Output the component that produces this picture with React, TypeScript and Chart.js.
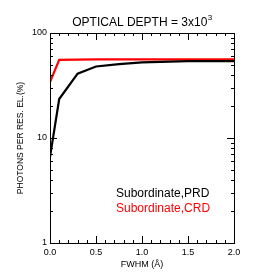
import React, { useEffect, useRef } from "react";
import { Chart, registerables } from "chart.js";
Chart.register(...registerables);

const xValues = [0.0, 0.1, 0.3, 0.5, 0.75, 1.0, 1.5, 2.0];
const prdValues = [6.6, 23.5, 41, 48, 50.5, 52.5, 54, 54];
const crdValues = [34, 55.5, 55.8, 56, 56, 56, 56, 56];
const yTickLabels = [1, 10, 100];
const xTickLabels = [0, 0.5, 1.0, 1.5, 2.0];
const titleText = "OPTICAL DEPTH = 3x10";
const titleSup = "3";
const seriesNames = ["Subordinate,PRD", "Subordinate,CRD"];
const FONT = "'Liberation Sans', Arial, Helvetica, sans-serif";

const framePlugin = {
  id: "frame",
  afterDraw(chart: any) {
    const { ctx, chartArea: a, scales } = chart;
    const x = scales.x, y = scales.y;
    ctx.save();
    ctx.strokeStyle = "#000";
    ctx.lineWidth = 1;
    ctx.strokeRect(a.left + 0.5, a.top + 0.5, a.right - a.left, a.bottom - a.top);
    ctx.beginPath();
    for (let i = 0; i <= 20; i++) {
      const v = i / 10;
      const px = Math.round(x.getPixelForValue(v)) + 0.5;
      const len = i % 5 === 0 ? 7 : 3;
      ctx.moveTo(px, a.bottom); ctx.lineTo(px, a.bottom - len);
      ctx.moveTo(px, a.top); ctx.lineTo(px, a.top + len);
    }
    for (let d = 1; d <= 100; d *= 10) {
      for (let m = 1; m <= 9; m++) {
        const v = d * m;
        if (v > 100) break;
        const py = Math.round(y.getPixelForValue(v)) + 0.5;
        const len = m === 1 ? 7 : 3;
        ctx.moveTo(a.left, py); ctx.lineTo(a.left + len, py);
        ctx.moveTo(a.right, py); ctx.lineTo(a.right - len, py);
      }
    }
    ctx.stroke();
    ctx.fillStyle = "#000";
    ctx.font = `12px ${FONT}`;
    ctx.textBaseline = "alphabetic";
    ctx.textAlign = "left";
    const w1 = ctx.measureText(titleText).width;
    ctx.font = `8px ${FONT}`;
    const w2 = ctx.measureText(titleSup).width;
    const cx = (a.left + a.right) / 2;
    const sx = cx - (w1 + w2) / 2;
    ctx.font = `12px ${FONT}`;
    ctx.fillText(titleText, sx, 26);
    ctx.font = `8px ${FONT}`;
    ctx.fillText(titleSup, sx + w1 + 0.5, 20);
    ctx.font = `12px ${FONT}`;
    ctx.fillStyle = "#000";
    ctx.fillText(seriesNames[0], 116, 197);
    ctx.fillStyle = "#ff0000";
    ctx.fillText(seriesNames[1], 116, 212);
    ctx.restore();
  },
};

export default function App() {
  const ref = useRef<HTMLCanvasElement>(null);
  useEffect(() => {
    document.body.style.margin = "0";
    const chart = new Chart(ref.current!, {
      type: "line",
      data: {
        datasets: [
          {
            label: seriesNames[0],
            data: xValues.map((x, i) => ({ x, y: prdValues[i] })),
            borderColor: "#000",
            borderWidth: 2.2,
            pointRadius: 0,
            tension: 0,
          },
          {
            label: seriesNames[1],
            data: xValues.map((x, i) => ({ x, y: crdValues[i] })),
            borderColor: "#ff0000",
            borderWidth: 2.2,
            pointRadius: 0,
            tension: 0,
          },
        ],
      },
      options: {
        animation: false,
        responsive: false,
        devicePixelRatio: 1,
        layout: { padding: { left: 16, right: 24, top: 33, bottom: 7 } },
        plugins: { legend: { display: false }, tooltip: { enabled: false }, title: { display: false } },
        scales: {
          x: {
            type: "linear",
            min: 0,
            max: 2,
            grid: { display: false, drawTicks: false },
            border: { display: false },
            afterBuildTicks: (s: any) => { s.ticks = xTickLabels.map((v) => ({ value: v })); },
            afterFit: (s: any) => { s.height = 27; },
            ticks: {
              color: "#000",
              font: { family: FONT, size: 9 },
              padding: 4,
              maxRotation: 0,
              callback: (v: any) => Number(v).toFixed(1),
            },
            title: {
              display: true,
              text: "FWHM (Å)",
              color: "#000",
              font: { family: FONT, size: 9 },
              padding: { top: 2, bottom: 0 },
            },
          },
          y: {
            type: "logarithmic",
            min: 1,
            max: 100,
            grid: { display: false, drawTicks: false },
            border: { display: false },
            afterBuildTicks: (s: any) => { s.ticks = yTickLabels.map((v) => ({ value: v })); },
            afterFit: (s: any) => { s.width = 34; },
            ticks: {
              color: "#000",
              font: { family: FONT, size: 9 },
              padding: 3,
              callback: (v: any) => String(v),
            },
            title: {
              display: true,
              text: "PHOTONS PER RES. EL.(%)",
              color: "#000",
              font: { family: FONT, size: 8.5 },
              padding: { top: 0, bottom: 4 },
            },
          },
        },
      },
      plugins: [framePlugin],
    } as any);
    return () => chart.destroy();
  }, []);
  return (
    <div style={{ width: 258, height: 277, background: "#fff" }}>
      <canvas ref={ref} width={258} height={277} style={{ display: "block" }} />
    </div>
  );
}
